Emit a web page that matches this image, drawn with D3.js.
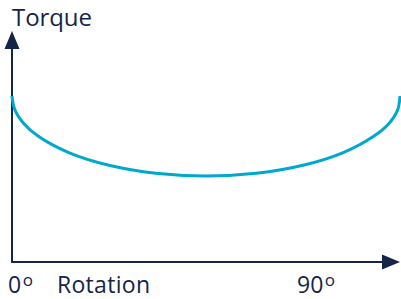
<!DOCTYPE html>
<html>
<head>
<meta charset="utf-8">
<script src="https://cdn.jsdelivr.net/npm/d3@7"></script>
<style>
  body { margin: 0; background: #fff; }
  svg { display: block; }
  text { font-family: "Open Sans", Lato, sans-serif; fill: #14254a; }
</style>
</head>
<body>
<div id="chart"></div>
<script>
// rotation in degrees, torque in arbitrary units (schematic)
const rotation = [0, 0.87, 3.51, 7.8, 17.04, 29.1, 43.14, 58.2, 73.26, 87.3, 99.36, 108.6, 113.1, 115.7, 116.4];
const torque = [83, 76.05, 69.3, 63, 54.7, 48.35, 44.35, 43, 44.35, 48.35, 54.7, 63, 69.3, 76.05, 83];
const xTickValues = [0, 90];
const xTickLabels = ["0", "90"];
const yTitle = "Torque";
const xTitle = "Rotation";

const W = 401, H = 299;
const navy = "#14254a", cyan = "#00a9cc";

const svg = d3.select("#chart").append("svg")
    .attr("width", W)
    .attr("height", H);

const x = d3.scaleLinear().domain([0, 90]).range([12, 312]);
const y = d3.scaleLinear().domain([0, 100]).range([262, 62]);

const data = rotation.map((r, i) => ({ r: r, t: torque[i] }));

// axes
svg.append("line")
    .attr("x1", x(0)).attr("x2", x(0))
    .attr("y1", y(0) + 1).attr("y2", 45)
    .attr("stroke", navy).attr("stroke-width", 2);
svg.append("path")
    .attr("d", `M${x(0)},31 L${x(0) - 7.5},49 L${x(0) + 7.5},49 Z`)
    .attr("fill", navy);

svg.append("line")
    .attr("x1", x(0) - 1).attr("x2", 386)
    .attr("y1", y(0)).attr("y2", y(0))
    .attr("stroke", navy).attr("stroke-width", 2);
svg.append("path")
    .attr("d", `M400,${y(0)} L382,${y(0) - 7.5} L382,${y(0) + 7.5} Z`)
    .attr("fill", navy);

// curve
svg.append("path")
    .datum(data)
    .attr("fill", "none")
    .attr("stroke", cyan)
    .attr("stroke-width", 3)
    .attr("d", d3.line()
        .x(d => x(d.r))
        .y(d => y(d.t))
        .curve(d3.curveCatmullRom.alpha(0.5)));

// labels
svg.append("text")
    .attr("x", 12).attr("y", 26)
    .attr("font-size", 24)
    .attr("textLength", 80)
    .text(yTitle);

xTickValues.forEach((v, i) => {
    const t = svg.append("text")
        .attr("x", i === 0 ? 8 : 297)
        .attr("y", 293)
        .attr("font-size", 23);
    t.append("tspan").text(xTickLabels[i]);
    t.append("tspan").attr("font-size", 17).attr("dx", 1.5).attr("dy", -7.5).text("o");
});

svg.append("text")
    .attr("x", 57).attr("y", 293)
    .attr("font-size", 23)
    .attr("textLength", 93)
    .text(xTitle);
</script>
</body>
</html>
